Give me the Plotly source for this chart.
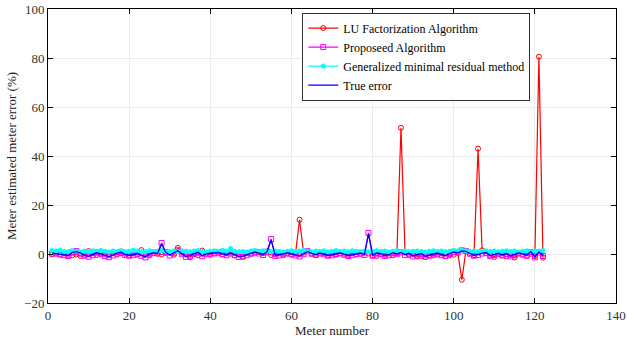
import plotly.graph_objects as go

meters = list(range(1, 123))

lu_err = [-0.2, 0.1, -0.3, 0.2, -0.4, -0.5, -0.2, -0.8, -0.3, 1.2,
          0.3, -0.4, 0.2, 0.1, -0.3, 0.6, -0.2, 0.3, 0.1, -0.4,
          0.2, -0.3, 1.6, 0.4, -0.6, 0.3, 0.1, -0.2, 0.4, 0.6,
          -0.3, 2.5, 0.5, -0.2, -1.3, 0.3, -0.5, 1.4, 0.2, -0.3,
          0.4, 0.5, -0.2, 0.3, 0.6, -0.6, -0.2, -1.0, 0.4, 0.2,
          0.5, 0.8, 0.3, 0.6, -0.4, -0.2, 0.3, -0.5, 0.2, -0.3,
          0.1, 14.0, 0.5, 1.2, 0.2, -0.3, 0.5, 0.3, -0.4, 0.2,
          -0.3, 0.4, 0.1, -0.4, 0.3, -0.2, 0.1, 0.5, 0.2, -0.5,
          -0.8, 0.6, -0.3, 0.2, -0.5, 0.3, 51.5, 0.8, -0.4, 0.3,
          -1.0, -0.8, -1.3, -0.4, -0.6, -0.3, 0.2, -0.8, -0.5, -0.3,
          0.6, -10.5, 1.3, 0.4, -0.5, 43.0, 1.5, 0.3, -0.6, -1.2,
          0.2, -0.5, -1.0, -0.4, -1.4, 0.2, -0.3, -0.7, 0.1, -0.9,
          80.5, -1.5]

proposed_err = [0.2, 0.3, -0.1, -0.5, -0.8, 0.9, 1.2, 0.2, -0.7, -1.1,
                -0.5, 0.6, -0.1, -0.8, -1.3, -0.6, 0.2, 0.9, -0.4, -0.7,
                -0.5, 0.1, -0.7, -1.4, -0.1, 0.6, 0.3, 4.5, 0.8, -0.6,
                0.3, 1.5, -0.1, -1.2, -0.7, 0.0, 0.8, -0.9, -0.1, 0.1,
                0.2, 0.7, -0.1, -0.5, 0.2, -0.4, -1.2, -1.1, -0.5, 0.1,
                0.9, 0.2, -0.4, 1.0, 6.1, -0.8, -0.6, -0.1, 0.3, 0.0,
                -0.6, -1.0, -0.1, 1.1, 0.1, -0.4, 0.2, -0.1, -0.7, -0.5,
                0.0, 0.3, -0.3, -0.8, -0.5, 0.0, 0.2, -0.4, 8.6, -0.7,
                0.2, 0.0, -0.8, -0.5, 0.3, -0.1, 0.7, -0.4, 0.1, -1.0,
                -0.6, 0.0, -1.1, -0.7, -0.1, 0.2, -0.5, -0.8, 0.0, 0.9,
                0.6, 1.5, 1.2, 0.1, -0.7, -0.4, 0.2, 0.4, -0.9, -0.4,
                0.1, -0.6, 0.0, -1.0, -0.5, 0.3, -0.1, -0.7, 0.8, -1.4,
                0.6, -0.8]

gmres_err = [1.4, 1.2, 1.5, 1.0, 0.9, 1.3, 1.1, 0.8, 1.2, 0.9,
             1.3, 1.0, 1.4, 1.1, 0.8, 1.2, 1.0, 1.3, 0.9, 1.1,
             1.5, 1.2, 0.8, 1.0, 1.3, 0.9, 1.1, 1.4, 1.0, 0.8,
             1.2, 1.0, 1.3, 1.1, 0.9, 1.2, 1.4, 1.0, 0.8, 1.1,
             1.3, 1.0, 1.5, 1.2, 2.2, 1.1, 0.9, 1.0, 0.8, 1.2,
             1.4, 1.0, 1.3, 1.1, 0.9, 1.2, 1.0, 0.8, 1.1, 1.3,
             1.0, 1.2, 1.5, 1.1, 0.9, 1.2, 1.0, 1.3, 0.8, 1.1,
             1.4, 1.0, 1.2, 0.9, 1.3, 1.1, 1.0, 1.2, 0.9, 1.1,
             1.3, 1.0, 1.2, 0.8, 1.1, 1.3, 1.0, 1.2, 0.9, 1.1,
             1.2, 1.0, 0.8, 1.1, 1.3, 1.0, 1.2, 0.9, 1.1, 1.4,
             1.2, 1.5, 1.3, 1.0, 1.2, 0.9, 1.1, 1.3, 1.0, 1.2,
             0.9, 1.1, 1.3, 1.0, 1.2, 0.8, 1.1, 1.3, 1.0, 1.2,
             1.1, 1.4]

true_err = [0.4, 0.2, 0.1, -0.3, -0.6, 0.7, 1.0, 0.4, -0.5, -0.9,
            -0.3, 0.5, 0.1, -0.6, -1.1, -0.4, 0.4, 0.8, -0.2, -0.5,
            -0.3, 0.3, -0.5, -1.2, 0.1, 0.5, 0.2, 4.2, 0.7, -0.4,
            0.5, 1.3, 0.1, -1.0, -0.5, 0.2, 0.7, -0.7, 0.1, 0.3,
            0.4, 0.6, 0.1, -0.3, 0.4, -0.2, -1.0, -0.9, -0.3, 0.3,
            0.8, 0.4, -0.2, 0.9, 5.8, -0.6, -0.4, 0.1, 0.5, 0.2,
            -0.4, -0.8, 0.1, 1.0, 0.3, -0.2, 0.4, 0.1, -0.5, -0.3,
            0.2, 0.5, -0.1, -0.6, -0.3, 0.2, 0.4, -0.2, 8.3, -0.5,
            0.4, 0.2, -0.6, -0.3, 0.5, 0.1, 0.6, -0.2, 0.3, -0.8,
            -0.4, 0.2, -0.9, -0.5, 0.1, 0.4, -0.3, -0.6, 0.2, 0.8,
            0.5, 1.3, 1.1, 0.3, -0.5, -0.2, 0.4, 0.6, -0.7, -0.2,
            0.3, -0.4, 0.2, -0.8, -0.3, 0.5, 0.1, -0.5, 1.0, -1.2,
            0.8, -0.6]

x_ticks = [0, 20, 40, 60, 80, 100, 120, 140]
y_ticks = [-20, 0, 20, 40, 60, 80, 100]

FONT = "Liberation Serif, Times New Roman, serif"

fig = go.Figure()
fig.add_trace(go.Scatter(x=meters, y=lu_err, mode="lines+markers",
                         name="LU Factorization Algorithm",
                         line=dict(color="#ff0000", width=1.2),
                         marker=dict(symbol="circle-open", size=5, color="#ff0000", line=dict(width=1))))
fig.add_trace(go.Scatter(x=meters, y=proposed_err, mode="lines+markers",
                         name="Proposeed Algorithm",
                         line=dict(color="#ff00ff", width=1.2),
                         marker=dict(symbol="square-open", size=5, color="#ff00ff", line=dict(width=1))))
fig.add_trace(go.Scatter(x=meters, y=gmres_err, mode="lines+markers",
                         name="Generalized minimal residual method",
                         line=dict(color="#00ffff", width=1.2),
                         marker=dict(symbol="circle", size=5, color="#00ffff")))
fig.add_trace(go.Scatter(x=meters, y=true_err, mode="lines",
                         name="True error",
                         line=dict(color="#0000ff", width=1.3)))

axis_common = dict(showline=True, linecolor="black", linewidth=1, mirror="allticks",
                   ticks="inside", ticklen=5, tickcolor="black",
                   showgrid=True, gridcolor="#ececec", gridwidth=1, zeroline=False,
                   automargin=False,
                   tickfont=dict(family=FONT, size=13, color="#333333"))

fig.update_layout(
    width=627, height=341,
    margin=dict(l=48, r=11, t=9, b=38),
    paper_bgcolor="white", plot_bgcolor="white",
    font=dict(family=FONT, size=13, color="#222222"),
    xaxis=dict(range=[0, 140], tickvals=x_ticks,
               title=dict(text="Meter number", font=dict(family=FONT, size=13), standoff=0),
               **axis_common),
    yaxis=dict(range=[-20, 100], tickvals=y_ticks,
               title=dict(text="Meter estimated meter error (%)", font=dict(family=FONT, size=13), standoff=4),
               **axis_common),
    legend=dict(x=0.849, y=0.988, xanchor="right", yanchor="top",
                bgcolor="white", bordercolor="#333333", borderwidth=1,
                font=dict(family=FONT, size=12, color="black"),
                itemwidth=30, tracegroupgap=0),
    showlegend=True,
)

fig.write_html("out.html", config={"displayModeBar": False},
               post_script="document.body.style.margin='0';document.body.style.padding='0';")
